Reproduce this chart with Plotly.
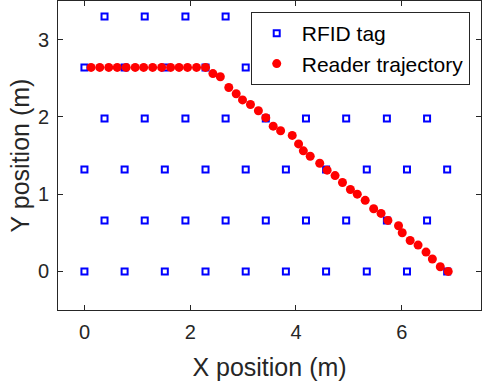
import plotly.graph_objects as go

# Tag grid: alternating rows
tag_rows_y = [0.0, 0.66, 1.32, 1.98, 2.64, 3.30]
tag_x_even = [0.0, 0.76, 1.52, 2.29, 3.05, 3.81, 4.57, 5.34, 6.10, 6.86]
tag_x_odd = [0.38, 1.14, 1.91, 2.67, 3.43, 4.19, 4.95, 5.72, 6.48]

# Reader trajectory
traj_x = [0.125, 0.29, 0.46, 0.62, 0.79, 0.96, 1.12, 1.29, 1.46, 1.63, 1.79, 1.95, 2.12, 2.29,
          2.43, 2.57, 2.73, 2.87, 2.99, 3.14, 3.29, 3.43, 3.57, 3.71, 3.93, 4.05, 4.14, 4.27,
          4.45, 4.59, 4.74, 4.88, 5.03, 5.16, 5.31, 5.47, 5.61, 5.74, 5.94, 6.01, 6.16, 6.31,
          6.46, 6.58, 6.73, 6.88]
traj_y = [2.64, 2.64, 2.64, 2.64, 2.64, 2.64, 2.64, 2.64, 2.64, 2.64, 2.64, 2.64, 2.64, 2.64,
          2.56, 2.52, 2.38, 2.30, 2.22, 2.16, 2.08, 1.99, 1.88, 1.82, 1.76, 1.65, 1.56, 1.49,
          1.40, 1.31, 1.24, 1.15, 1.06, 1.00, 0.92, 0.81, 0.75, 0.66, 0.59, 0.50, 0.40, 0.34,
          0.25, 0.16, 0.06, 0.0]

tx, ty = [], []
for i, yv in enumerate(tag_rows_y):
    xs = tag_x_even if i % 2 == 0 else tag_x_odd
    tx += xs
    ty += [yv] * len(xs)

fig = go.Figure()
fig.add_trace(go.Scatter(
    x=tx, y=ty, mode="markers", name="RFID tag",
    marker=dict(symbol="square-open", size=6, color="#0000ff", line=dict(width=2, color="#0000ff")),
))
fig.add_trace(go.Scatter(
    x=traj_x, y=traj_y, mode="markers", name="Reader trajectory",
    marker=dict(symbol="circle", size=9, color="#ff0000", line=dict(width=0)),
))

axcol = "#262626"
fig.update_layout(
    width=482, height=390,
    margin=dict(l=58, r=1, t=1, b=80),
    paper_bgcolor="white", plot_bgcolor="white",
    font=dict(family="Liberation Sans, Arial, sans-serif", size=20, color=axcol),
    showlegend=True,
    legend=dict(
        x=0.4556, y=0.964, xanchor="left", yanchor="top",
        bgcolor="white", bordercolor=axcol, borderwidth=1,
        font=dict(size=21, color="#000000"),
        itemwidth=40, tracegroupgap=0,
    ),
    xaxis=dict(
        range=[-0.5, 7.5], tickvals=[0, 2, 4, 6], ticks="inside", ticklen=5,
        showline=True, linecolor=axcol, linewidth=1, mirror="ticks",
        showgrid=False, zeroline=False, tickcolor=axcol, ticklabelstandoff=4,
        title=dict(text="X position (m)", font=dict(size=25), standoff=16),
    ),
    yaxis=dict(
        range=[-0.5, 3.5], tickvals=[0, 1, 2, 3], ticks="inside", ticklen=5,
        showline=True, linecolor=axcol, linewidth=1, mirror="ticks",
        showgrid=False, zeroline=False, tickcolor=axcol, ticklabelstandoff=4,
        title=dict(text="Y position (m)", font=dict(size=25), standoff=1),
    ),
)

fig.write_html("out.html")
